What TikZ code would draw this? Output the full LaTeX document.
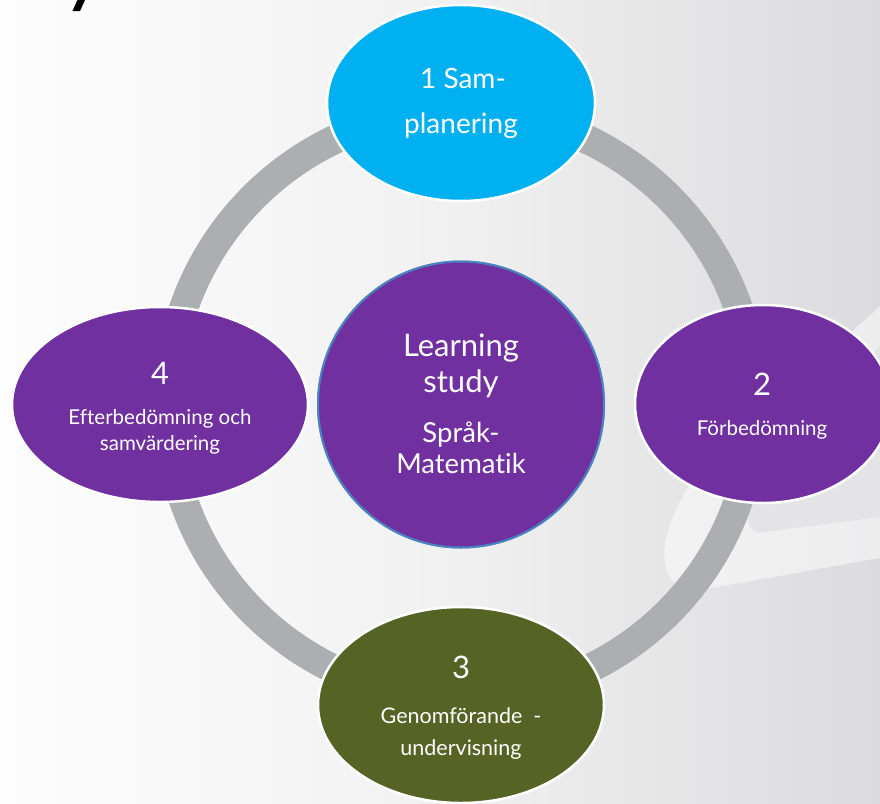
\documentclass[tikz,border=0pt]{standalone}
\usepackage{fontspec}
\setmainfont[Ligatures=NoCommon]{Lato}
\usetikzlibrary{shapes.geometric}
\definecolor{ringgray}{HTML}{ADAEB1}
\definecolor{cyanfill}{HTML}{00B0F0}
\definecolor{purplefill}{HTML}{7030A0}
\definecolor{olivefill}{HTML}{556325}
\definecolor{centerborder}{HTML}{4A84BE}
\definecolor{bgleft}{HTML}{FDFDFD}
\definecolor{bgmid}{HTML}{F1F1F1}
\definecolor{bgright}{HTML}{DBDBDE}
\definecolor{swooshdark}{HTML}{E4E4E6}
\begin{document}
\begin{tikzpicture}[x=1pt,y=-1pt,
  stage/.style={ellipse, draw=white, line width=2.5pt, inner sep=0pt},
  lbl/.style={anchor=base, text=white, inner sep=0pt, align=center},
  huge/.style={font=\fontsize{31}{36}\selectfont},
  large/.style={font=\fontsize{28}{31}\selectfont},
  sub/.style={font=\fontsize{27.5}{31}\selectfont},
  num/.style={font=\fontsize{31}{34}\selectfont},
  mid/.style={font=\fontsize{21.5}{26}\selectfont},
  small/.style={font=\fontsize{20.5}{24}\selectfont}]
% background
\shade[left color=bgleft, right color=bgright, middle color=bgmid] (0,0) rectangle (880,803);
\useasboundingbox (0,0) rectangle (880,803);
% faint swoosh on the right
\fill[white, opacity=0.5] (880,306) -- (700,470) .. controls (655,530) and (650,592) .. (700,590) -- (880,558) -- cycle;
\fill[swooshdark] (880,346) -- (770,470) .. controls (745,505) and (740,536) .. (765,532) -- (880,517) -- cycle;
% cropped glyph at top left
\fill[black] (72.5,11) -- (80,11) -- (85,0) -- (77.5,0) -- cycle;
% nodes
\node[circle, fill=purplefill, draw=centerborder, line width=2pt, minimum size=286pt, inner sep=0pt] (c) at (461,404.5) {};
\draw[ringgray, line width=29pt] (c.center) circle[radius=293.5pt];
\node[stage, fill=cyanfill, minimum width=268pt, minimum height=196pt] (s1) at (461,103) {};
\node[stage, fill=purplefill, minimum width=256pt, minimum height=198pt] (s2) at (763,404) {};
\node[stage, fill=olivefill, minimum width=286pt, minimum height=196pt] (s3) at (461,705) {};
\node[stage, fill=purplefill, minimum width=296pt, minimum height=195pt] (s4) at (160,404.5) {};
\node[circle, fill=purplefill, draw=centerborder, line width=2pt, minimum size=286pt, inner sep=0pt] (cc) at (c.center) {};
% texts
\node[lbl, large] (t1a) at (463,88) {1 Sam-};
\node[lbl, large] (t1b) at (461,133) {planering};
\node[lbl, num] (t2a) at (762,395) {2};
\node[lbl, small] (t2b) at (762,435) {Förbedömning};
\node[lbl, num] (t3a) at (461,678) {3};
\node[lbl, mid] (t3b) at (461,723) {Genomförande~ -};
\node[lbl, mid] (t3c) at (461,755) {undervisning};
\node[lbl, num] (t4a) at (160,384) {4};
\node[lbl, small] (t4b) at (160,424) {Efterbedömning och};
\node[lbl, small] (t4c) at (160,450) {samvärdering};
\node[lbl, huge] (tca) at (461,356) {Learning};
\node[lbl, huge] (tcb) at (461,392) {study};
\node[lbl, sub] (tcc) at (461,442) {Språk-};
\node[lbl, sub] (tcd) at (461,473) {Matematik};
\end{tikzpicture}
\end{document}
